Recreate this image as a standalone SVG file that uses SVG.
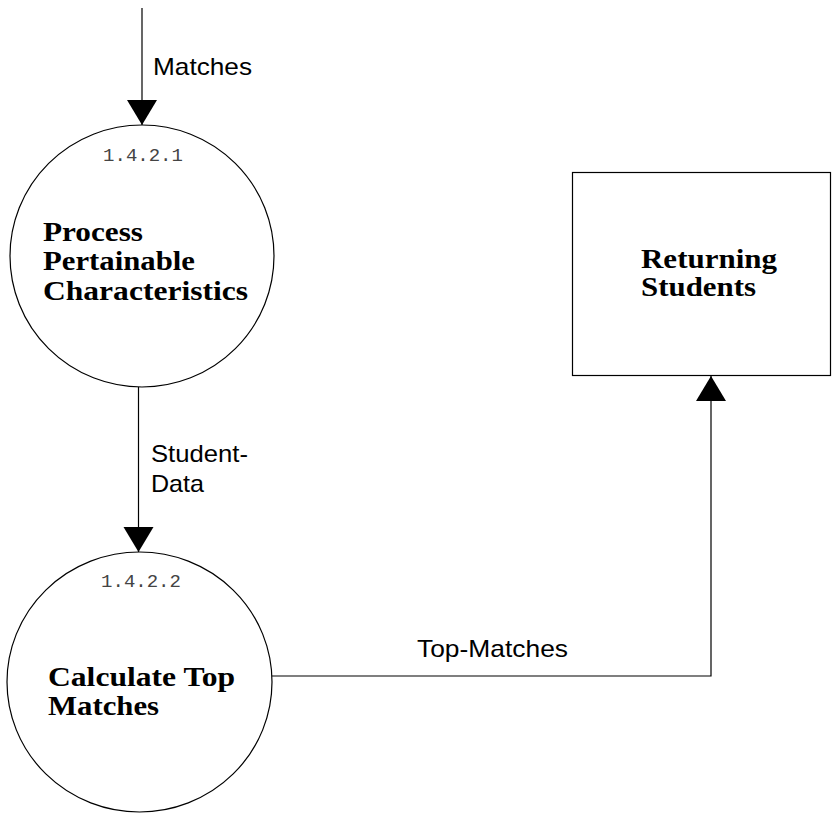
<svg xmlns="http://www.w3.org/2000/svg" width="832" height="814" viewBox="0 0 832 814">
<style>
.shape{fill:#fff;stroke:#000;stroke-width:1.2}
.conn{fill:none;stroke:#000;stroke-width:1.2}
.num{font-family:"Liberation Mono","Courier New",monospace;font-size:19px;fill:#444;text-anchor:middle}
.title{font-family:"Liberation Serif","Times New Roman",serif;font-size:28px;font-weight:bold;fill:#000}
.lbl{font-family:"Liberation Sans",Arial,sans-serif;font-size:24px;fill:#000}
</style>
<defs>
<marker id="arr" markerUnits="userSpaceOnUse" markerWidth="26" markerHeight="31" refX="25" refY="15" orient="auto" viewBox="0 0 26 31">
<path d="M0,0 L25,15 L0,30 Z" fill="#000"/>
</marker>
</defs>
<rect width="832" height="814" fill="#fff"/>
<g id="connectors">
<g id="c-matches">
<line class="conn" x1="142" y1="8" x2="142" y2="125" marker-end="url(#arr)"/>
<text class="lbl" x="153" y="75" textLength="99" lengthAdjust="spacingAndGlyphs">Matches</text>
</g>
<g id="c-student-data">
<line class="conn" x1="138.5" y1="387" x2="138.5" y2="552" marker-end="url(#arr)"/>
<text class="lbl" x="151" y="462" textLength="97" lengthAdjust="spacingAndGlyphs">Student-</text>
<text class="lbl" x="151" y="492" textLength="53" lengthAdjust="spacingAndGlyphs">Data</text>
</g>
<g id="c-top-matches">
<polyline class="conn" points="272,676 711,676 711,376" marker-end="url(#arr)"/>
<text class="lbl" x="417" y="657" textLength="151" lengthAdjust="spacingAndGlyphs">Top-Matches</text>
</g>
</g>
<g id="p1421">
<ellipse class="shape" cx="142" cy="256" rx="132" ry="131"/>
<text class="num" x="143" y="161">1.4.2.1</text>
<text class="title" x="43" y="241" textLength="100" lengthAdjust="spacingAndGlyphs">Process</text>
<text class="title" x="43" y="270" textLength="152" lengthAdjust="spacingAndGlyphs">Pertainable</text>
<text class="title" x="43" y="300" textLength="205" lengthAdjust="spacingAndGlyphs">Characteristics</text>
</g>
<g id="p1422">
<ellipse class="shape" cx="139.5" cy="682" rx="132.5" ry="130"/>
<text class="num" x="141" y="587">1.4.2.2</text>
<text class="title" x="48" y="686" textLength="187" lengthAdjust="spacingAndGlyphs">Calculate Top</text>
<text class="title" x="48" y="715" textLength="111" lengthAdjust="spacingAndGlyphs">Matches</text>
</g>
<g id="returning-students">
<rect class="shape" x="572.5" y="172.5" width="258" height="203"/>
<text class="title" x="641" y="268" textLength="136" lengthAdjust="spacingAndGlyphs">Returning</text>
<text class="title" x="641" y="296" textLength="115" lengthAdjust="spacingAndGlyphs">Students</text>
</g>
</svg>
